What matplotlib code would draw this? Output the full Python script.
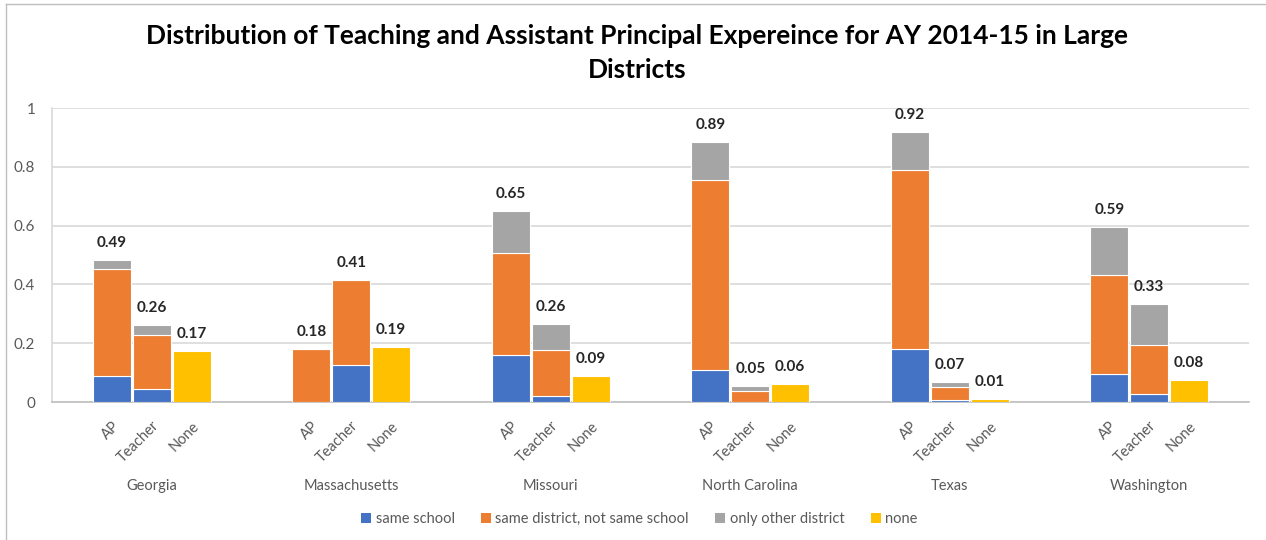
import matplotlib
matplotlib.use("Agg")
import matplotlib.pyplot as plt
import numpy as np
from matplotlib.lines import Line2D
from matplotlib.patches import Patch

plt.rcParams['font.family'] = ['Lato', 'DejaVu Sans']

states = ["Georgia", "Massachusetts", "Missouri", "North Carolina", "Texas", "Washington"]
roles = ["AP", "Teacher", "None"]
series = ["same school", "same district, not same school", "only other district", "none"]
colors = ["#4472C4", "#ED7D31", "#A5A5A5", "#FFC000"]

# AP bars
ap_same_school = [0.087, 0.0, 0.161, 0.110, 0.181, 0.095]
ap_same_district = [0.366, 0.181, 0.346, 0.644, 0.609, 0.336]
ap_other_district = [0.031, 0.0, 0.144, 0.131, 0.129, 0.165]
# Teacher bars
teacher_same_school = [0.044, 0.127, 0.021, 0.0, 0.008, 0.026]
teacher_same_district = [0.183, 0.287, 0.156, 0.038, 0.044, 0.167]
teacher_other_district = [0.034, 0.0, 0.088, 0.017, 0.016, 0.139]
# None bars
none_values = [0.175, 0.187, 0.087, 0.062, 0.011, 0.076]

ap_labels = ["0.49", "0.18", "0.65", "0.89", "0.92", "0.59"]
teacher_labels = ["0.26", "0.41", "0.26", "0.05", "0.07", "0.33"]
none_labels = ["0.17", "0.19", "0.09", "0.06", "0.01", "0.08"]

title = "Distribution of Teaching and Assistant Principal Expereince for AY 2014-15 in Large\nDistricts"
yticks = [0, 0.2, 0.4, 0.6, 0.8, 1]
ytick_labels = ["0", "0.2", "0.4", "0.6", "0.8", "1"]

W, H = 1266, 540
fig = plt.figure(figsize=(W / 100, H / 100), dpi=100)
ax = fig.add_axes([52 / W, 1 - 402 / H, (1249 - 52) / W, (402 - 108) / H])

x = np.arange(len(states))
off = 0.2
bw = 0.19
grey_txt = "#595959"

def stack(xpos, segs, cols):
    bottom = np.zeros(len(xpos))
    for s, c in zip(segs, cols):
        s = np.array(s)
        ax.bar(xpos, s, bw, bottom=bottom, color=c, edgecolor="white", linewidth=0.8, zorder=3)
        bottom += s
    return bottom

ap_tot = stack(x - off, [ap_same_school, ap_same_district, ap_other_district], colors[:3])
t_tot = stack(x, [teacher_same_school, teacher_same_district, teacher_other_district], colors[:3])
n_tot = stack(x + off, [none_values], [colors[3]])

for xs, tots, labs in [(x - off, ap_tot, ap_labels), (x, t_tot, teacher_labels), (x + off, n_tot, none_labels)]:
    for xi, ti, li in zip(xs, tots, labs):
        ax.annotate(li, (xi, ti), xytext=(0, 17), textcoords="offset pixels",
                    ha="center", va="center", fontsize=11, fontweight="bold", color="#262626")

ax.set_xlim(-0.5, len(states) - 0.5)
ax.set_ylim(0, 1)
ax.set_yticks(yticks)
ax.set_yticklabels(ytick_labels)
ax.tick_params(axis="y", length=0, pad=12, labelsize=11, labelcolor=grey_txt)
ax.grid(axis="y", color="#D9D9D9", linewidth=1.2, zorder=0)
ax.set_axisbelow(True)
for s in ["top", "right"]:
    ax.spines[s].set_visible(False)
ax.spines["left"].set_color("#D9D9D9")
ax.spines["bottom"].set_color("#BFBFBF")
ax.spines["left"].set_linewidth(1.2)
ax.spines["bottom"].set_linewidth(1.2)

# role tick labels
pos = np.concatenate([x - off, x, x + off])
labs = [roles[0]] * len(x) + [roles[1]] * len(x) + [roles[2]] * len(x)
ax.set_xticks(pos)
ax.set_xticklabels(labs, rotation=45, ha="right", va="top", rotation_mode="anchor")
ax.tick_params(axis="x", length=0, pad=12, labelsize=10.5, labelcolor=grey_txt)

# group labels
trans = matplotlib.transforms.blended_transform_factory(ax.transData, fig.transFigure)
for xi, st in zip(x, states):
    ax.text(xi, 1 - 486 / H, st, transform=trans, ha="center", va="center",
            fontsize=10.5, color=grey_txt)

fig.text(0.503, 1 - 53 / H, title, ha="center", va="center", fontsize=19,
         fontweight="bold", color="black", linespacing=1.45)

handles = [Patch(facecolor=c, edgecolor="none") for c in colors]
fig.legend(handles, series, loc="center", bbox_to_anchor=(0.505, 1 - 519 / H), ncol=4,
           frameon=False, fontsize=10.5, labelcolor=grey_txt, handlelength=0.7,
           handleheight=0.7, handletextpad=0.3, columnspacing=1.8)

# chart frame lines (top and left)
fig.add_artist(Line2D([6 / W, 1], [1 - 4 / H, 1 - 4 / H], color="#BFBFBF", linewidth=1, transform=fig.transFigure))
fig.add_artist(Line2D([6 / W, 6 / W], [0, 1 - 4 / H], color="#BFBFBF", linewidth=1, transform=fig.transFigure))

fig.savefig("out.png", dpi=100)
